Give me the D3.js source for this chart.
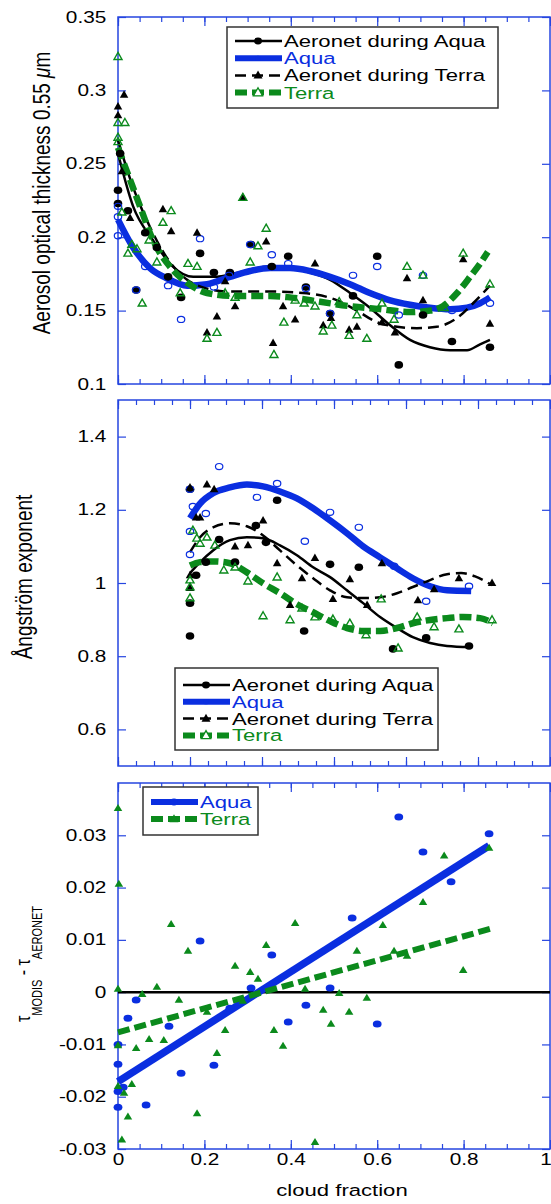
<!DOCTYPE html>
<html>
<head>
<meta charset="utf-8">
<script src="https://cdn.jsdelivr.net/npm/d3@7"></script>
<style>
  body { margin: 0; background: #fff; }
  svg { display: block; font-family: "Liberation Sans", Arial, Helvetica, sans-serif; }
</style>
</head>
<body>
<svg id="chart" width="551" height="1204"></svg>
<script>
// ---- panel 1: aerosol optical thickness vs cloud fraction ----
const aodAeroAquaPts = [[0.005,0.257],[0,0.232],[0,0.223],[0.023,0.218],[0.042,0.164],[0.063,0.203],[0.090,0.193],[0.116,0.173],[0.146,0.159],[0.190,0.189],[0.222,0.176],[0.259,0.176],[0.308,0.195],[0.356,0.180],[0.394,0.187],[0.435,0.166],[0.491,0.148],[0.544,0.160],[0.600,0.187],[0.650,0.113],[0.706,0.147],[0.773,0.129],[0.861,0.125]];
const aodAquaPts = [[0,0.221],[0,0.214],[0,0.201],[0.042,0.164],[0.063,0.180],[0.116,0.167],[0.146,0.144],[0.190,0.199],[0.222,0.166],[0.257,0.174],[0.306,0.195],[0.356,0.188],[0.394,0.182],[0.435,0.165],[0.491,0.148],[0.544,0.174],[0.600,0.180],[0.650,0.147],[0.706,0.174],[0.773,0.150],[0.861,0.155]];
const aodAeroTerraPts = [[0,0.289],[0,0.283],[0.014,0.297],[0.009,0.245],[0.028,0.213],[0.104,0.219],[0.123,0.204],[0.183,0.203],[0.206,0.135],[0.229,0.146],[0.248,0.170],[0.271,0.153],[0.289,0.227],[0.343,0.197],[0.359,0.128],[0.382,0.153],[0.410,0.144],[0.456,0.182],[0.475,0.140],[0.493,0.145],[0.535,0.137],[0.553,0.139],[0.611,0.142],[0.641,0.135],[0.669,0.172],[0.706,0.157],[0.799,0.185],[0.861,0.141]];
const aodTerraPts = [[0,0.323],[0,0.278],[0.016,0.278],[0,0.268],[0,0.265],[0.009,0.217],[0.023,0.189],[0.032,0.195],[0.044,0.192],[0.056,0.155],[0.072,0.198],[0.090,0.183],[0.104,0.210],[0.123,0.218],[0.144,0.162],[0.162,0.182],[0.183,0.180],[0.206,0.131],[0.229,0.135],[0.248,0.162],[0.271,0.159],[0.289,0.227],[0.306,0.183],[0.324,0.194],[0.343,0.206],[0.361,0.120],[0.384,0.142],[0.410,0.157],[0.431,0.155],[0.456,0.153],[0.475,0.136],[0.495,0.140],[0.512,0.156],[0.535,0.133],[0.553,0.147],[0.576,0.131],[0.611,0.155],[0.639,0.144],[0.669,0.180],[0.706,0.174],[0.755,0.152],[0.799,0.189],[0.861,0.168]];
const aodAeroAquaFit = [[0,0.257],[0.035,0.221],[0.081,0.198],[0.127,0.180],[0.174,0.173],[0.229,0.173],[0.266,0.175],[0.352,0.180],[0.398,0.179],[0.444,0.176],[0.491,0.171],[0.537,0.162],[0.583,0.152],[0.630,0.140],[0.676,0.130],[0.722,0.125],[0.769,0.123],[0.808,0.123],[0.838,0.127],[0.861,0.130]];
const aodAquaFit = [[0,0.212],[0.035,0.193],[0.074,0.179],[0.113,0.172],[0.160,0.167],[0.206,0.168],[0.259,0.173],[0.306,0.177],[0.352,0.179],[0.398,0.179],[0.444,0.177],[0.491,0.173],[0.537,0.168],[0.583,0.162],[0.630,0.157],[0.676,0.154],[0.722,0.152],[0.769,0.151],[0.808,0.152],[0.838,0.155],[0.861,0.159]];
const aodAeroTerraFit = [[0,0.266],[0.035,0.234],[0.074,0.207],[0.113,0.186],[0.160,0.171],[0.206,0.165],[0.252,0.163],[0.352,0.163],[0.428,0.162],[0.507,0.157],[0.553,0.150],[0.600,0.142],[0.646,0.139],[0.692,0.138],[0.738,0.139],[0.785,0.145],[0.822,0.155],[0.861,0.167]];
const aodTerraFit = [[0,0.261],[0.028,0.239],[0.051,0.221],[0.081,0.198],[0.120,0.180],[0.160,0.169],[0.206,0.162],[0.266,0.160],[0.352,0.160],[0.398,0.159],[0.468,0.156],[0.537,0.153],[0.606,0.151],[0.676,0.149],[0.722,0.150],[0.752,0.153],[0.785,0.162],[0.815,0.173],[0.838,0.182],[0.856,0.190]];
const aodTicks = [0.1,0.15,0.2,0.25,0.3,0.35];

// ---- panel 2: Angstrom exponent ----
const angAeroAquaPts = [[0,1.256],[0,0.945],[0,0.855],[0.017,1.021],[0.044,1.057],[0.081,1.119],[0.125,1.057],[0.183,1.157],[0.211,1.111],[0.242,1.226],[0.317,0.869],[0.389,1.051],[0.469,1.043],[0.564,0.820],[0.656,0.850],[0.775,0.828]];
const angAquaPts = [[0,1.256],[0.008,1.209],[0.044,1.190],[0,1.141],[0,1.078],[0.081,1.318],[0.186,1.234],[0.242,1.272],[0.319,1.114],[0.389,1.193],[0.469,1.152],[0.567,1.046],[0.656,0.950],[0.775,0.991]];
const angAeroTerraPts = [[0,1.261],[0,1.021],[0,0.986],[0.017,1.179],[0.028,1.179],[0.047,1.269],[0.067,1.256],[0.125,1.100],[0.161,1.103],[0.203,1.171],[0.242,1.054],[0.278,0.940],[0.311,1.013],[0.347,1.068],[0.397,0.956],[0.444,1.010],[0.492,0.940],[0.533,1.054],[0.633,0.953],[0.678,0.983],[0.747,1.013],[0.839,1.000]];
const angTerraPts = [[0.008,1.144],[0.019,1.122],[0.047,1.125],[0.028,1.108],[0.069,1.103],[0,1.008],[0,0.989],[0,0.959],[0.094,1.035],[0.125,1.043],[0.161,1.005],[0.203,0.910],[0.242,1.016],[0.278,0.899],[0.311,0.931],[0.347,0.907],[0.397,0.901],[0.444,0.890],[0.489,0.858],[0.531,0.956],[0.578,0.822],[0.631,0.907],[0.678,0.880],[0.747,0.874],[0.839,0.899]];
const angAeroAquaFit = [[0,1.027],[0.028,1.057],[0.064,1.089],[0.111,1.117],[0.158,1.125],[0.203,1.122],[0.250,1.103],[0.297,1.076],[0.342,1.043],[0.389,1.016],[0.436,0.980],[0.481,0.945],[0.528,0.907],[0.575,0.877],[0.619,0.852],[0.667,0.836],[0.714,0.828],[0.778,0.825]];
const angAquaFit = [[0,1.177],[0.028,1.217],[0.064,1.245],[0.111,1.261],[0.158,1.269],[0.203,1.264],[0.250,1.250],[0.297,1.231],[0.342,1.204],[0.389,1.171],[0.436,1.136],[0.481,1.100],[0.528,1.070],[0.575,1.040],[0.619,1.013],[0.667,0.991],[0.714,0.980],[0.781,0.978]];
const angAeroTerraFit = [[0,1.084],[0.028,1.125],[0.064,1.152],[0.111,1.163],[0.158,1.155],[0.203,1.130],[0.250,1.089],[0.297,1.048],[0.342,1.013],[0.389,0.980],[0.436,0.961],[0.481,0.959],[0.528,0.961],[0.575,0.972],[0.619,0.989],[0.667,1.008],[0.714,1.024],[0.753,1.027],[0.792,1.018],[0.839,0.994]];
const angTerraFit = [[0,1.048],[0.028,1.057],[0.064,1.059],[0.111,1.054],[0.158,1.029],[0.203,0.999],[0.250,0.972],[0.297,0.942],[0.342,0.920],[0.389,0.896],[0.436,0.877],[0.481,0.869],[0.528,0.869],[0.575,0.877],[0.619,0.890],[0.667,0.899],[0.714,0.904],[0.758,0.907],[0.806,0.904],[0.842,0.890]];
const angTicks = [0.6,0.8,1,1.2,1.4];

// ---- panel 3: tau MODIS - tau AERONET ----
const diffAquaPts = [[0,-0.0100],[0,-0.0138],[0,-0.0190],[0,-0.0220],[0.012,-0.0182],[0.023,-0.0050],[0.042,-0.0015],[0.065,-0.0216],[0.118,-0.0065],[0.146,-0.0155],[0.190,0.0098],[0.222,-0.0140],[0.259,-0.0031],[0.308,0.0008],[0.356,0.0071],[0.394,-0.0057],[0.435,-0.0025],[0.491,0.0008],[0.542,0.0142],[0.600,-0.0061],[0.650,0.0335],[0.706,0.0268],[0.771,0.0211],[0.859,0.0303]];
const diffTerraPts = [[0,0.0352],[0.002,0.0207],[0,0.0006],[0,-0.0102],[0,-0.0180],[0.014,-0.0193],[0.009,-0.0282],[0.023,-0.0238],[0.032,-0.0176],[0.042,-0.0107],[0.056,-0.0004],[0.072,-0.0090],[0.090,0.0010],[0.106,-0.0092],[0.123,0.0130],[0.141,-0.0015],[0.162,0.0079],[0.183,-0.0232],[0.206,-0.0038],[0.229,-0.0117],[0.248,-0.0073],[0.271,0.0050],[0.289,-0.0017],[0.306,0.0038],[0.324,0.0025],[0.343,0.0090],[0.361,-0.0073],[0.382,-0.0103],[0.410,0.0132],[0.433,0.0006],[0.456,-0.0287],[0.475,-0.0034],[0.493,-0.0061],[0.512,-0.0002],[0.535,-0.0038],[0.553,0.0079],[0.576,-0.0011],[0.613,0.0128],[0.639,0.0079],[0.669,0.0069],[0.706,0.0172],[0.755,0.0261],[0.799,0.0042],[0.859,0.0276]];
const diffAquaFit = [[0,-0.0171],[0.859,0.0280]];
const diffTerraFit = [[0,-0.0077],[0.866,0.0122]];
const diffTicks = [-0.03,-0.02,-0.01,0,0.01,0.02,0.03];
const cloudTicks = [0,0.2,0.4,0.6,0.8,1];

// ---- layout / style ----
const left = 118, right = 550;
const SX = 1.3;                 // source figure is stretched sideways
const FRAME = '#2646e0', BLUE = '#0a2ee0', GREEN = '#0b8a1c';
const svg = d3.select('#chart');

const fmt = d => d3.format('~g')(d).replace('\u2212', '-');

function tri(cx, cy, w, h) {
  return `M${cx},${cy - h * 0.6}L${cx + w / 2},${cy + h * 0.4}L${cx - w / 2},${cy + h * 0.4}Z`;
}

function stretchText(sel) {
  sel.attr('transform', `scale(${SX},1)`);
}

function styleAxis(a) {
  a.select('.domain').remove();
  a.selectAll('line').attr('stroke', FRAME).attr('stroke-width', 1.2);
  a.attr('font-family', null).attr('font-size', 16);
  a.selectAll('text').attr('fill', '#000');
}

function makePanel(o) {
  const x = d3.scaleLinear().domain(o.xDomain).range([left, right]);
  const y = d3.scaleLinear().domain(o.yDomain).range([o.bottom, o.top]);
  const g = svg.append('g');

  // x ticks top and bottom, minor then major
  const minor = d3.range(o.xDomain[0], o.xDomain[1] + 1e-9, 0.05);
  [[d3.axisTop, o.top], [d3.axisBottom, o.bottom]].forEach(([ax, pos]) => {
    g.append('g').attr('transform', `translate(0,${pos})`)
      .call(ax(x).tickValues(minor).tickSize(-5).tickFormat(''))
      .call(styleAxis);
    g.append('g').attr('transform', `translate(0,${pos})`)
      .call(ax(x).tickValues(o.xMajor).tickSize(-9).tickPadding(5)
        .tickFormat(o.xLabels && ax === d3.axisBottom ? fmt : ''))
      .call(styleAxis)
      .call(a => a.selectAll('text').call(stretchText))
      // keep the last label ("1") inside the page edge
      .call(a => a.selectAll('text').filter(d => d === o.xDomain[1])
        .attr('text-anchor', 'end').attr('x', 1));
  });

  // y ticks left (labelled) and right
  g.append('g').attr('transform', `translate(${left},0)`)
    .call(d3.axisLeft(y).tickValues(o.yTicks).tickSize(-8).tickPadding(9).tickFormat(fmt))
    .call(styleAxis)
    .call(a => a.selectAll('text').call(stretchText));
  g.append('g').attr('transform', `translate(${right},0)`)
    .call(d3.axisRight(y).tickValues(o.yTicks).tickSize(-8).tickFormat(''))
    .call(styleAxis);

  g.append('rect')
    .attr('x', left).attr('y', o.top)
    .attr('width', right - left).attr('height', o.bottom - o.top)
    .attr('fill', 'none').attr('stroke', FRAME).attr('stroke-width', 1.5);

  return { g, x, y };
}

function drawLine(p, pts, color, width, dash, curve) {
  const line = d3.line().x(d => p.x(d[0])).y(d => p.y(d[1])).curve(curve || d3.curveMonotoneX);
  p.g.append('path').datum(pts)
    .attr('fill', 'none').attr('stroke', color).attr('stroke-width', width)
    .attr('stroke-dasharray', dash || null)
    .attr('d', line);
}

function drawCircles(p, pts, rx, ry, fill, stroke, sw) {
  p.g.append('g').selectAll('ellipse').data(pts).join('ellipse')
    .attr('cx', d => p.x(d[0])).attr('cy', d => p.y(d[1]))
    .attr('rx', rx).attr('ry', ry)
    .attr('fill', fill).attr('stroke', stroke || 'none').attr('stroke-width', sw || 0);
}

function drawTris(p, pts, w, h, fill, stroke, sw) {
  p.g.append('g').selectAll('path').data(pts).join('path')
    .attr('d', d => tri(p.x(d[0]), p.y(d[1]), w, h))
    .attr('fill', fill).attr('stroke', stroke || 'none').attr('stroke-width', sw || 0);
}

function legend(box, rows) {
  const lg = svg.append('g');
  lg.append('rect').attr('x', box.x).attr('y', box.y).attr('width', box.w).attr('height', box.h)
    .attr('fill', '#fff').attr('stroke', '#333').attr('stroke-width', 1.5);
  rows.forEach((r, i) => {
    const ry = box.y + box.first + i * box.step;
    lg.append('line').attr('x1', box.x + 8).attr('x2', box.x + 55).attr('y1', ry).attr('y2', ry)
      .attr('stroke', r.color).attr('stroke-width', r.width).attr('stroke-dasharray', r.dash || null);
    const mx = box.x + 31;
    if (r.marker === 'circle') {
      lg.append('ellipse').attr('cx', mx).attr('cy', ry).attr('rx', r.mr).attr('ry', r.mr * 0.85)
        .attr('fill', r.mfill);
    } else {
      lg.append('path').attr('d', tri(mx, ry, 9, 8))
        .attr('fill', r.mfill).attr('stroke', r.mstroke || 'none').attr('stroke-width', 1.3);
    }
    lg.append('text').attr('transform', `translate(${box.x + 57},${ry + 6}) scale(${SX},1)`)
      .attr('font-size', 17).attr('fill', r.tcolor).text(r.label);
  });
}

// ---------- panel 1 ----------
const p1 = makePanel({ top: 17, bottom: 384, xDomain: [0, 1], yDomain: [0.1, 0.35],
  xMajor: cloudTicks, yTicks: aodTicks, xLabels: false });
drawLine(p1, aodAeroAquaFit, '#000', 2.5);
drawLine(p1, aodAquaFit, BLUE, 6.5);
drawLine(p1, aodAeroTerraFit, '#000', 2.5, '11,6');
drawLine(p1, aodTerraFit, GREEN, 6.5, '12,5');
drawCircles(p1, aodAeroAquaPts, 4.3, 3.8, '#000');
drawCircles(p1, aodAquaPts, 3.7, 3.1, 'none', BLUE, 1.2);
drawTris(p1, aodAeroTerraPts, 8.5, 7.5, '#000');
drawTris(p1, aodTerraPts, 8, 7, 'none', GREEN, 1.4);

const legendRows = [
  { label: 'Aeronet during Aqua', color: '#000', width: 2.5, marker: 'circle', mr: 4, mfill: '#000', tcolor: '#000' },
  { label: 'Aqua', color: BLUE, width: 6, marker: 'circle', mr: 3, mfill: BLUE, tcolor: BLUE },
  { label: 'Aeronet during Terra', color: '#000', width: 2.5, dash: '11,6', marker: 'tri', mfill: '#000', tcolor: '#000' },
  { label: 'Terra', color: GREEN, width: 6, dash: '12,5', marker: 'tri', mfill: '#fff', mstroke: GREEN, tcolor: GREEN }
];
legend({ x: 227, y: 27, w: 271, h: 81, first: 14, step: 17.2 }, legendRows);

svg.append('text')
  .attr('transform', `translate(50,193) scale(${SX},1) rotate(-90)`)
  .attr('text-anchor', 'middle').attr('font-size', 19)
  .call(t => {
    t.append('tspan').text('Aerosol optical thickness 0.55 ');
    t.append('tspan').attr('font-style', 'italic').text('\u03bc');
    t.append('tspan').text('m');
  });

// ---------- panel 2 ----------
const p2 = makePanel({ top: 400, bottom: 766, xDomain: [-0.2, 1], yDomain: [0.5, 1.5],
  xMajor: [-0.2, 0, 0.2, 0.4, 0.6, 0.8, 1], yTicks: angTicks, xLabels: false });
drawLine(p2, angAeroAquaFit, '#000', 2.5);
drawLine(p2, angAquaFit, BLUE, 6.5);
drawLine(p2, angAeroTerraFit, '#000', 2.5, '11,6');
drawLine(p2, angTerraFit, GREEN, 6.5, '12,5');
drawCircles(p2, angAeroAquaPts, 4.3, 3.8, '#000');
drawCircles(p2, angAquaPts, 3.7, 3.1, 'none', BLUE, 1.2);
drawTris(p2, angAeroTerraPts, 8.5, 7.5, '#000');
drawTris(p2, angTerraPts, 8, 7, 'none', GREEN, 1.4);
legend({ x: 175, y: 668, w: 263, h: 82, first: 17, step: 16.8 }, legendRows);

svg.append('text')
  .attr('transform', `translate(32,577) scale(${SX},1) rotate(-90)`)
  .attr('text-anchor', 'middle').attr('font-size', 19)
  .text('\u00c5ngstr\u00f6m  exponent');

// ---------- panel 3 ----------
const p3 = makePanel({ top: 783, bottom: 1149, xDomain: [0, 1], yDomain: [-0.03, 0.04],
  xMajor: cloudTicks, yTicks: diffTicks, xLabels: true });
p3.g.append('line').attr('x1', left).attr('x2', right)
  .attr('y1', p3.y(0)).attr('y2', p3.y(0)).attr('stroke', '#000').attr('stroke-width', 2.5);
drawLine(p3, diffAquaFit, BLUE, 7.5, null, d3.curveLinear);
drawLine(p3, diffTerraFit, GREEN, 6, '12,5', d3.curveLinear);
drawCircles(p3, diffAquaPts, 4.4, 3.5, BLUE);
drawTris(p3, diffTerraPts, 8.5, 7, GREEN);
legend({ x: 143, y: 787, w: 115, h: 48, first: 15, step: 17 }, [
  { label: 'Aqua', color: BLUE, width: 6, marker: 'circle', mr: 4, mfill: BLUE, tcolor: BLUE },
  { label: 'Terra', color: GREEN, width: 6, dash: '12,5', marker: 'tri', mfill: GREEN, tcolor: GREEN }
]);

svg.append('text')
  .attr('transform', `translate(30,964) scale(${SX},1) rotate(-90)`)
  .attr('text-anchor', 'middle').attr('font-size', 16)
  .call(t => {
    t.append('tspan').text('\u03c4');
    t.append('tspan').attr('font-size', 11).attr('dy', 9).text('MODIS');
    t.append('tspan').attr('dy', -9).text(' - \u03c4');
    t.append('tspan').attr('font-size', 11).attr('dy', 9).text('AERONET');
  });

svg.append('text')
  .attr('transform', `translate(342,1196) scale(${SX},1)`)
  .attr('text-anchor', 'middle').attr('font-size', 17)
  .text('cloud fraction');
</script>
</body>
</html>
